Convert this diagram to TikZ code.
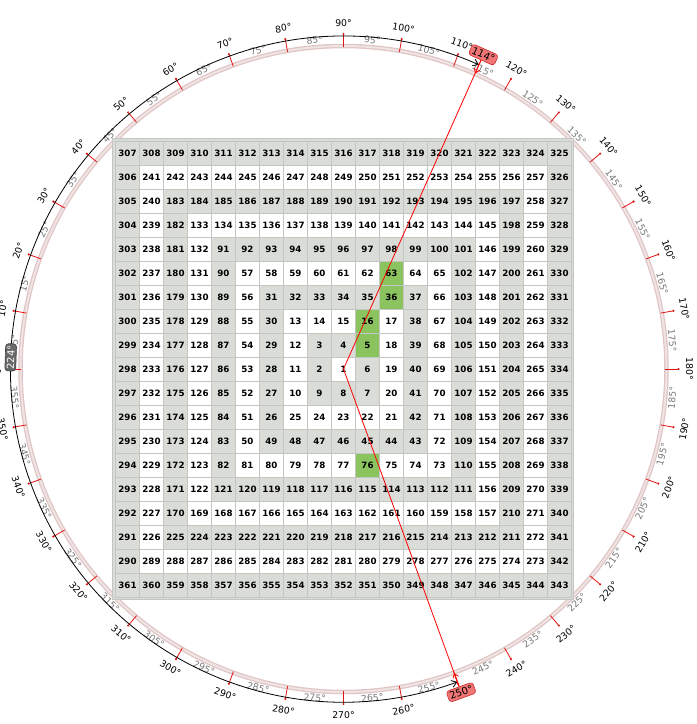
\documentclass[tikz,border=0pt]{standalone}
\usepackage{fontspec}
\setmainfont{DejaVu Sans}
\usetikzlibrary{arrows.meta}
\definecolor{cellg}{RGB}{218,220,215}
\definecolor{cellw}{RGB}{255,255,255}
\definecolor{cellh}{RGB}{139,195,95}
\definecolor{gridln}{RGB}{196,198,194}
\definecolor{band}{RGB}{226,196,196}
\definecolor{bandin}{RGB}{238,228,228}
\definecolor{subgray}{RGB}{120,120,120}
\definecolor{tickred}{RGB}{225,20,20}
\definecolor{markfill}{RGB}{240,118,118}
\definecolor{markdraw}{RGB}{205,45,45}
\definecolor{spanfill}{RGB}{105,105,105}

\begin{document}
\begin{tikzpicture}[x=1pt,y=1pt,
  cell/.style={draw=gridln,line width=0.9pt,minimum size=24pt,inner sep=0pt,font=\fontsize{8.7}{10}\selectfont\bfseries},
  deg/.style={font=\fontsize{9.3}{11}\selectfont,inner sep=0pt},
  sub/.style={deg,text=subgray},
  tickln/.style={draw=tickred,line width=0.8pt},
  ray/.style={draw=red,line width=0.8pt},
  spanln/.style={draw=black,line width=0.8pt,{Straight Barb[length=5pt,width=7pt]}-{Straight Barb[length=5pt,width=7pt]}},
  marker/.style={rounded corners=3pt,fill=markfill,draw=markdraw,line width=0.6pt,font=\fontsize{10}{12}\selectfont,inner sep=2pt},
  spanbox/.style={rounded corners=3pt,fill=spanfill,draw=black!75,line width=0.6pt,text=white,font=\fontsize{9.8}{12}\selectfont,inner sep=1.8pt}]
\useasboundingbox (-343.5,-355) rectangle (353.5,369);
\coordinate (o) at (0,0);
% ring through the grid corners
\draw[band,line width=4.5pt] (o) circle[radius=323];
\draw[bandin,line width=2pt] (o) circle[radius=323];
% spiral grid
\filldraw[fill=cellg,draw=gridln,line width=1pt] (-230.5,-230.5) rectangle (230.5,230.5);
\foreach \i in {0,...,18}{
  \foreach \j in {0,...,18}{
    \pgfmathtruncatemacro\dx{\i-9}
    \pgfmathtruncatemacro\dy{\j-9}
    \pgfmathtruncatemacro\k{max(abs(\dx),abs(\dy))}
    \pgfmathtruncatemacro\m{(2*\k-1)^2}
    \pgfmathtruncatemacro\n{ifthenelse(and(\dx==-\k,\dy<\k), \m+\k-(\dy), ifthenelse(\dy==-\k, \m+3*\k+(\dx), ifthenelse(\dx==\k, \m+5*\k+(\dy), \m+7*\k-(\dx))))}
    \pgfmathtruncatemacro\hit{or(or(\n==5,\n==16),or(or(\n==36,\n==63),\n==76))}
    \pgfmathsetmacro\px{24*(\dx)}
    \pgfmathsetmacro\py{-24*(\dy)}
    \def\cellcol{cellw}
    \ifodd\k \def\cellcol{cellg}\fi
    \ifnum\hit=1 \def\cellcol{cellh}\fi
    \node[cell,fill=\cellcol] (n\n) at (\px,\py) {\n};
  }
}
% ticks and degree labels
\foreach \a in {0,10,...,350}{
  \draw[tickln] ({180-\a}:322) -- ({180-\a}:335) coordinate (d\a);
  \fill[tickred] (d\a) circle[radius=1.2];
  \pgfmathsetmacro\rot{ifthenelse(\a<=180,90-\a,270-\a)}
  \node[deg,rotate=\rot] (l\a) at ({180-\a}:346) {\a{}°};
}
\foreach \a in {5,15,...,355}{
  \pgfmathsetmacro\rot{ifthenelse(\a<=180,90-\a,270-\a)}
  \node[sub,rotate=\rot] (s\a) at ({180-\a}:330) {\a{}°};
}
% span between the two rays
\draw[spanln] (-70:333) arc[start angle=-70,end angle=-294,radius=333];
\node[spanbox,rotate=88] (span) at (178:333) {224°};
% rays
\coordinate (b114) at (66:323.5);
\coordinate (b250) at (-70:323.5);
\node[marker,rotate=-24] (m114) at (66:344) {114°};
\node[marker,rotate=20] (m250) at (-70:344) {250°};
\draw[ray] (o) -- (m114);
\draw[ray] (o) -- (m250);
\draw[ray,-{Straight Barb[length=4pt,width=6pt]}] (m114) -- (b114);
\draw[ray,-{Straight Barb[length=4pt,width=6pt]}] (m250) -- (b250);
\end{tikzpicture}
\end{document}
